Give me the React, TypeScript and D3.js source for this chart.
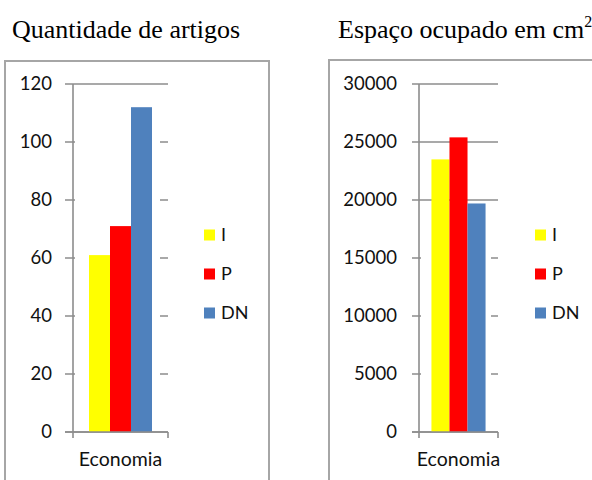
import React from "react";
import * as d3 from "d3";

const categories = ["Economia"];
const seriesNames = ["I", "P", "DN"];
const seriesColors = ["#FFFF00", "#FF0000", "#4F81BD"];
const countValues = [61, 71, 112];
const spaceValues = [23500, 25400, 19700];
const countTicks = [0, 20, 40, 60, 80, 100, 120];
const spaceTicks = [0, 5000, 10000, 15000, 20000, 25000, 30000];

const LINE = "#8C8C8C";
const FONT = "Lato, 'Open Sans', sans-serif";
const SERIF = "'Liberation Serif', 'Times New Roman', serif";

type PanelProps = {
  values: number[];
  ticks: number[];
  axisX: number;
  gridLeft: number;
  plotRight: number;
  labelX: number;
  padOuter: number;
  legendX: number;
  coverTop: number;
  coverRight: number;
};

function Panel({ values, ticks, axisX, gridLeft, plotRight, labelX, padOuter, legendX, coverTop, coverRight }: PanelProps) {
  const y0 = 432;
  const yTop = 84;
  const y = d3.scaleLinear().domain([0, ticks[ticks.length - 1]]).range([y0, yTop]);
  const x0 = d3.scaleBand<string>().domain(categories).range([axisX, plotRight]).paddingInner(0).paddingOuter(padOuter);
  const x1 = d3.scaleBand<string>().domain(seriesNames).range([0, x0.bandwidth()]).padding(0);
  const ct = y(coverTop);
  return (
    <g>
      {ticks.map((t) => (
        <line key={"g" + t} x1={gridLeft} x2={plotRight} y1={y(t)} y2={y(t)} stroke={LINE} strokeWidth={1.6} />
      ))}
      <rect x={axisX + 2} y={ct} width={coverRight - axisX - 2} height={y0 - ct - 1} fill="#fff" />
      {categories.map((c) =>
        seriesNames.map((s, i) => (
          <rect
            key={c + s}
            x={(x0(c) as number) + (x1(s) as number)}
            y={y(values[i])}
            width={x1.bandwidth()}
            height={y0 - y(values[i])}
            fill={seriesColors[i]}
          />
        ))
      )}
      <line x1={axisX} x2={axisX} y1={yTop} y2={y0 + 6} stroke={LINE} strokeWidth={1.6} />
      <line x1={gridLeft} x2={plotRight} y1={y0} y2={y0} stroke={LINE} strokeWidth={1.6} />
      <line x1={plotRight} x2={plotRight} y1={y0} y2={y0 + 6} stroke={LINE} strokeWidth={1.6} />
      {ticks.map((t) => (
        <text key={"t" + t} x={labelX} y={y(t)} dy="0.35em" textAnchor="end" fontFamily={FONT} fontSize={18.5} fill="#111">
          {t}
        </text>
      ))}
      {categories.map((c) => (
        <text key={c} x={(x0(c) as number) + x0.bandwidth() / 2} y={466} textAnchor="middle" fontFamily={FONT} fontSize={19.5} fill="#111">
          {c}
        </text>
      ))}
      {seriesNames.map((s, i) => (
        <g key={"l" + s} transform={`translate(${legendX},${235 + i * 39})`}>
          <rect x={0} y={-5.5} width={11} height={11} fill={seriesColors[i]} />
          <text x={17} y={0} dy="0.35em" fontFamily={FONT} fontSize={18} fill="#111">
            {s}
          </text>
        </g>
      ))}
    </g>
  );
}

export default function App() {
  return (
    <svg width={592} height={480} style={{ position: "absolute", left: 0, top: 0, background: "#fff" }}>
      <rect x={0} y={0} width={592} height={480} fill="#fff" />
      <rect x={5} y={61} width={264} height={500} fill="none" stroke="#A6A6A6" strokeWidth={2} />
      <rect x={329} y={60} width={300} height={500} fill="none" stroke="#A6A6A6" strokeWidth={2} />
      <text x={12} y={38} fontFamily={SERIF} fontSize={26} fill="#000">
        Quantidade de artigos
      </text>
      <text x={338} y={38} fontFamily={SERIF} fontSize={26} fill="#000">
        Espaço ocupado em cm
        <tspan dy={-11} fontSize={16}>2</tspan>
      </text>
      <Panel values={countValues} ticks={countTicks} axisX={73} gridLeft={65} plotRight={168} labelX={52} padOuter={0.254} legendX={204} coverTop={110} coverRight={160} />
      <Panel values={spaceValues} ticks={spaceTicks} axisX={419} gridLeft={412} plotRight={498} labelX={397} padOuter={0.23} legendX={535} coverTop={17500} coverRight={491} />
    </svg>
  );
}
